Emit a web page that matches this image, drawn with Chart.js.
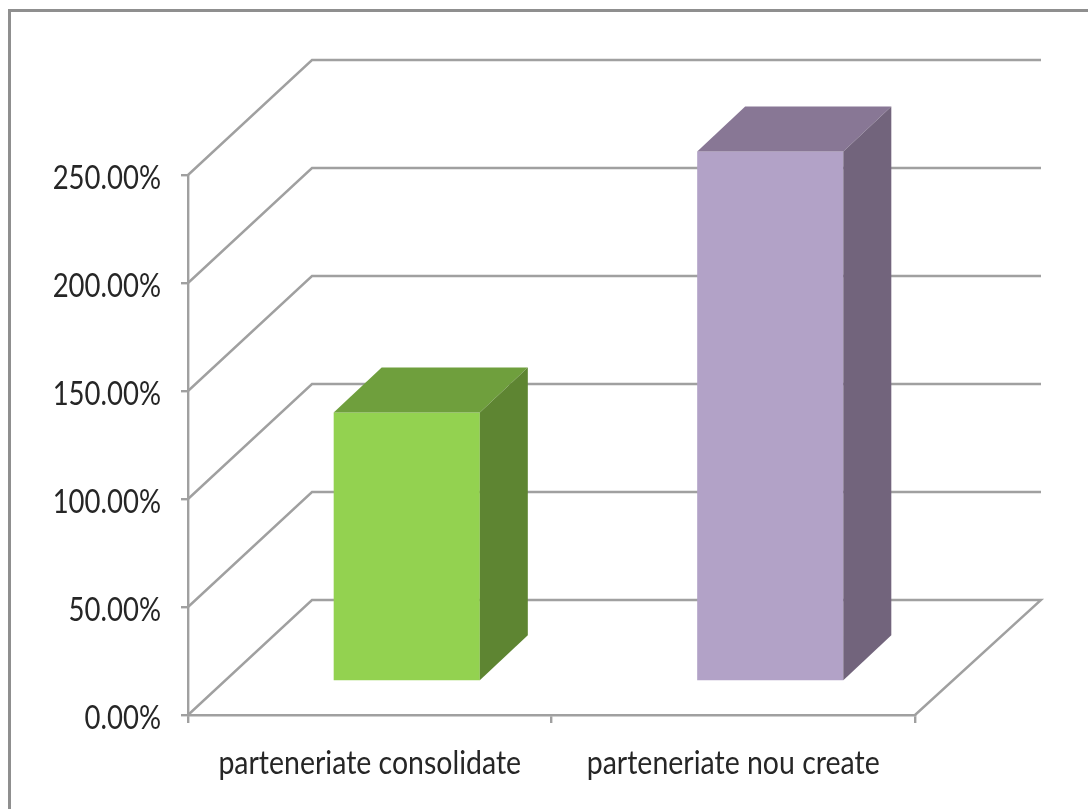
<!DOCTYPE html>
<html>
<head>
<meta charset="utf-8">
<style>
html,body{margin:0;padding:0;background:#fff;overflow:hidden;width:1088px;height:809px}
#frame{position:absolute;left:8px;top:9px;right:0;bottom:0;border-left:3px solid #8f8f8f;border-top:3px solid #8f8f8f;pointer-events:none}
canvas{position:absolute;left:0;top:0}
</style>
<script src="https://cdn.jsdelivr.net/npm/chart.js@4"></script>
</head>
<body>
<canvas id="c" width="1088" height="809"></canvas>
<div id="frame"></div>
<script>
const categories = ['parteneriate consolidate', 'parteneriate nou create'];
const seriesValues = [124.5, 245.4];
const frontColors = ['#93d250', '#b2a2c7'];
const topColors = ['#6f9f3d', '#887795'];
const sideColors = ['#5e8532', '#72647c'];
const yMin = 0, yMax = 250, yStep = 50;

const WALL = {dx: 124, dy: -115};
const BAR_SHIFT = {dx: 37, dy: -33.5};
const BAR_DEPTH = {dx: 48, dy: -45};
const LINE = '#a0a0a0';
const SQUEEZE_Y_LABELS = 0.86;
const SQUEEZE_X_LABELS = 0.89;

function poly(ctx, pts, fill) {
  ctx.beginPath();
  pts.forEach((p, i) => i ? ctx.lineTo(p[0], p[1]) : ctx.moveTo(p[0], p[1]));
  ctx.closePath();
  ctx.fillStyle = fill;
  ctx.fill();
}

const box3d = {
  id: 'box3d',
  beforeDraw(chart) {
    const ctx = chart.ctx;
    if (ctx.__squeezed) return;
    ctx.__squeezed = true;
    const orig = ctx.fillText.bind(ctx);
    ctx.fillText = function (text, x, y) {
      ctx.save();
      ctx.translate(x, y + 3.5);
      ctx.scale(ctx.textAlign === 'center' ? SQUEEZE_X_LABELS : SQUEEZE_Y_LABELS, 1);
      orig(text, 0, 0);
      ctx.restore();
    };
  },
  beforeDatasetsDraw(chart) {
    const {ctx, scales: {y}, chartArea: a} = chart;
    ctx.save();
    ctx.strokeStyle = LINE;
    ctx.lineWidth = 2.4;
    ctx.lineJoin = 'miter';
    for (const t of y.ticks) {
      const py = y.getPixelForValue(t.value);
      ctx.beginPath();
      ctx.moveTo(a.left, py);
      ctx.lineTo(a.left + WALL.dx, py + WALL.dy);
      ctx.lineTo(a.right + WALL.dx + 2, py + WALL.dy);
      if (t.value === yMin) ctx.lineTo(a.right, py);
      ctx.stroke();
    }
    ctx.restore();
    ctx.save();
    ctx.translate(BAR_SHIFT.dx, BAR_SHIFT.dy);
  },
  afterDatasetsDraw(chart) {
    const {ctx} = chart;
    chart.getDatasetMeta(0).data.forEach((b, i) => {
      const l = b.x - b.width / 2, r = b.x + b.width / 2, t = b.y, bot = b.base;
      const dx = BAR_DEPTH.dx, dy = BAR_DEPTH.dy;
      poly(ctx, [[l, t], [r, t], [r + dx, t + dy], [l + dx, t + dy]], topColors[i]);
      poly(ctx, [[r, t], [r + dx, t + dy], [r + dx, bot + dy], [r, bot]], sideColors[i]);
    });
    ctx.restore();
  }
};

new Chart(document.getElementById('c'), {
  type: 'bar',
  data: {
    labels: categories,
    datasets: [{data: seriesValues, backgroundColor: frontColors, borderWidth: 0,
      barPercentage: 0.402, categoryPercentage: 1, clip: false}]
  },
  options: {
    responsive: false,
    animation: false,
    devicePixelRatio: 1,
    layout: {padding: {left: 0, right: 173, top: 175, bottom: 0}},
    plugins: {legend: {display: false}, title: {display: false}, tooltip: {enabled: false}},
    scales: {
      x: {
        afterFit(s) { s.height = 94; },
        grid: {drawOnChartArea: false, color: LINE, lineWidth: 2.4, tickLength: 8},
        border: {color: LINE, width: 2.4},
        ticks: {maxRotation: 0, autoSkip: false, padding: 18, color: '#262626',
          font: {family: 'Lato', size: 32}}
      },
      y: {
        min: yMin, max: yMax,
        afterFit(s) { s.width = 188; },
        grid: {drawOnChartArea: false, color: LINE, lineWidth: 2.4, tickLength: 7},
        border: {color: LINE, width: 2.4},
        ticks: {stepSize: yStep, padding: 20, color: '#262626',
          font: {family: 'Lato', size: 32},
          callback: v => v.toFixed(2) + '%'}
      }
    }
  },
  plugins: [box3d]
});
</script>
</body>
</html>
